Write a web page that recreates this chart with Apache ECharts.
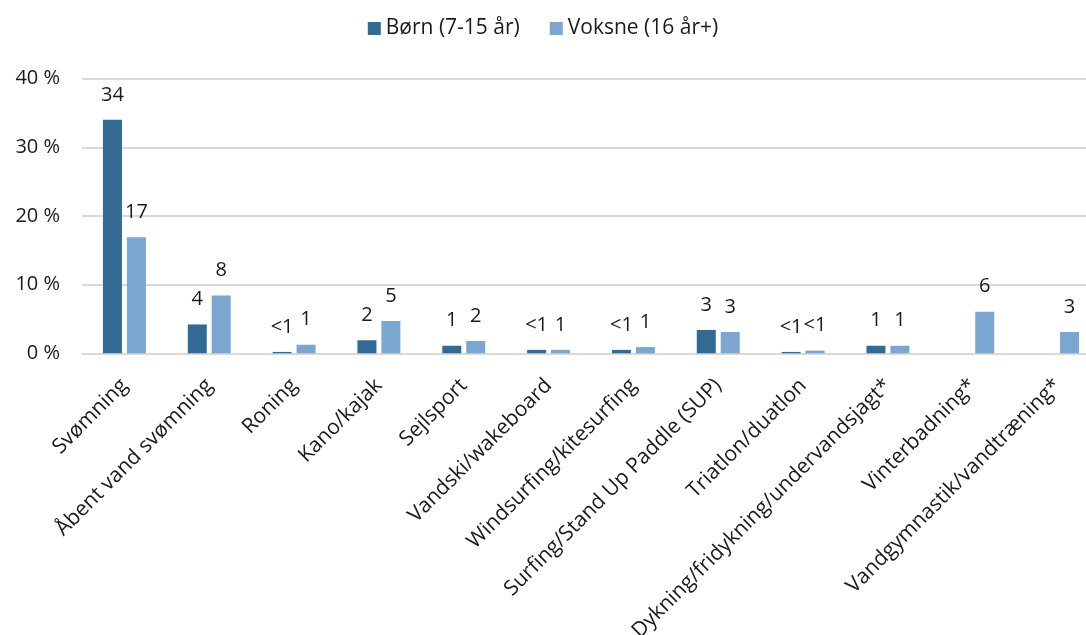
<!DOCTYPE html>
<html>
<head>
<meta charset="utf-8">
<script src="https://cdn.jsdelivr.net/npm/echarts@6/dist/echarts.min.js"></script>
<style>
html,body{margin:0;padding:0;background:#fff;}
#chart{width:1086px;height:635px;}
</style>
</head>
<body>
<div id="chart"></div>
<script>
const categories = ['Svømning','Åbent vand svømning','Roning','Kano/kajak','Sejlsport','Vandski/wakeboard','Windsurfing/kitesurfing','Surfing/Stand Up Paddle (SUP)','Triatlon/duatlon','Dykning/fridykning/undervandsjagt*','Vinterbadning*','Vandgymnastik/vandtræning*'];
const seriesNames = ['Børn (7-15 år)','Voksne (16 år+)'];
const bornValues = [34.0, 4.2, 0.2, 1.9, 1.1, 0.5, 0.5, 3.4, 0.2, 1.1, null, null];
const voksneValues = [16.9, 8.4, 1.25, 4.7, 1.8, 0.5, 0.9, 3.1, 0.4, 1.1, 6.05, 3.1];
const bornLabels = ['34','4','<1','2','1','<1','<1','3','<1','1','',''];
const voksneLabels = ['17','8','1','5','2','1','1','3','<1','1','6','3'];
const yTicks = [0, 10, 20, 30, 40];

const FONT = '"Open Sans", sans-serif';
const TXT = '#1a1a1a';

const chart = echarts.init(document.getElementById('chart'), null, {renderer:'canvas'});
const labelCommon = {
  show: true, position: 'top', distance: 15,
  fontFamily: FONT, fontSize: 20, color: TXT
};
chart.setOption({
  animation: false,
  textStyle: {fontFamily: FONT},
  legend: {
    data: seriesNames,
    top: 13, left: 'center',
    itemWidth: 13, itemHeight: 13, itemGap: 30,
    icon: 'rect',
    textStyle: {fontFamily: FONT, fontSize: 21, color: TXT, padding: [0,0,0,0]}
  },
  grid: {left: 82, width: 1018, top: 78.6, height: 274.7, containLabel: false, outerBoundsMode: 'none'},
  xAxis: {
    type: 'category',
    data: categories,
    axisTick: {show: false},
    axisLine: {show: true, lineStyle: {color: '#d9d9d9', width: 2}},
    axisLabel: {
      interval: 0, rotate: 45, margin: 29,
      fontFamily: FONT, fontSize: 21, color: TXT
    }
  },
  yAxis: {
    type: 'value',
    min: yTicks[0], max: yTicks[yTicks.length-1], interval: 10,
    axisLine: {show: false},
    axisTick: {show: false},
    splitLine: {lineStyle: {color: '#d9d9d9', width: 2}},
    axisLabel: {
      formatter: '{value} %', margin: 22,
      fontFamily: FONT, fontSize: 20, color: TXT
    }
  },
  series: [
    {
      name: seriesNames[0], type: 'bar', data: bornValues,
      barWidth: 19, barGap: '26%',
      itemStyle: {color: '#336a93'},
      label: Object.assign({}, labelCommon, {formatter: p => bornLabels[p.dataIndex]})
    },
    {
      name: seriesNames[1], type: 'bar', data: voksneValues,
      barWidth: 19,
      itemStyle: {color: '#7aa6d0'},
      label: Object.assign({}, labelCommon, {formatter: p => voksneLabels[p.dataIndex]})
    }
  ]
});
</script>
</body>
</html>
